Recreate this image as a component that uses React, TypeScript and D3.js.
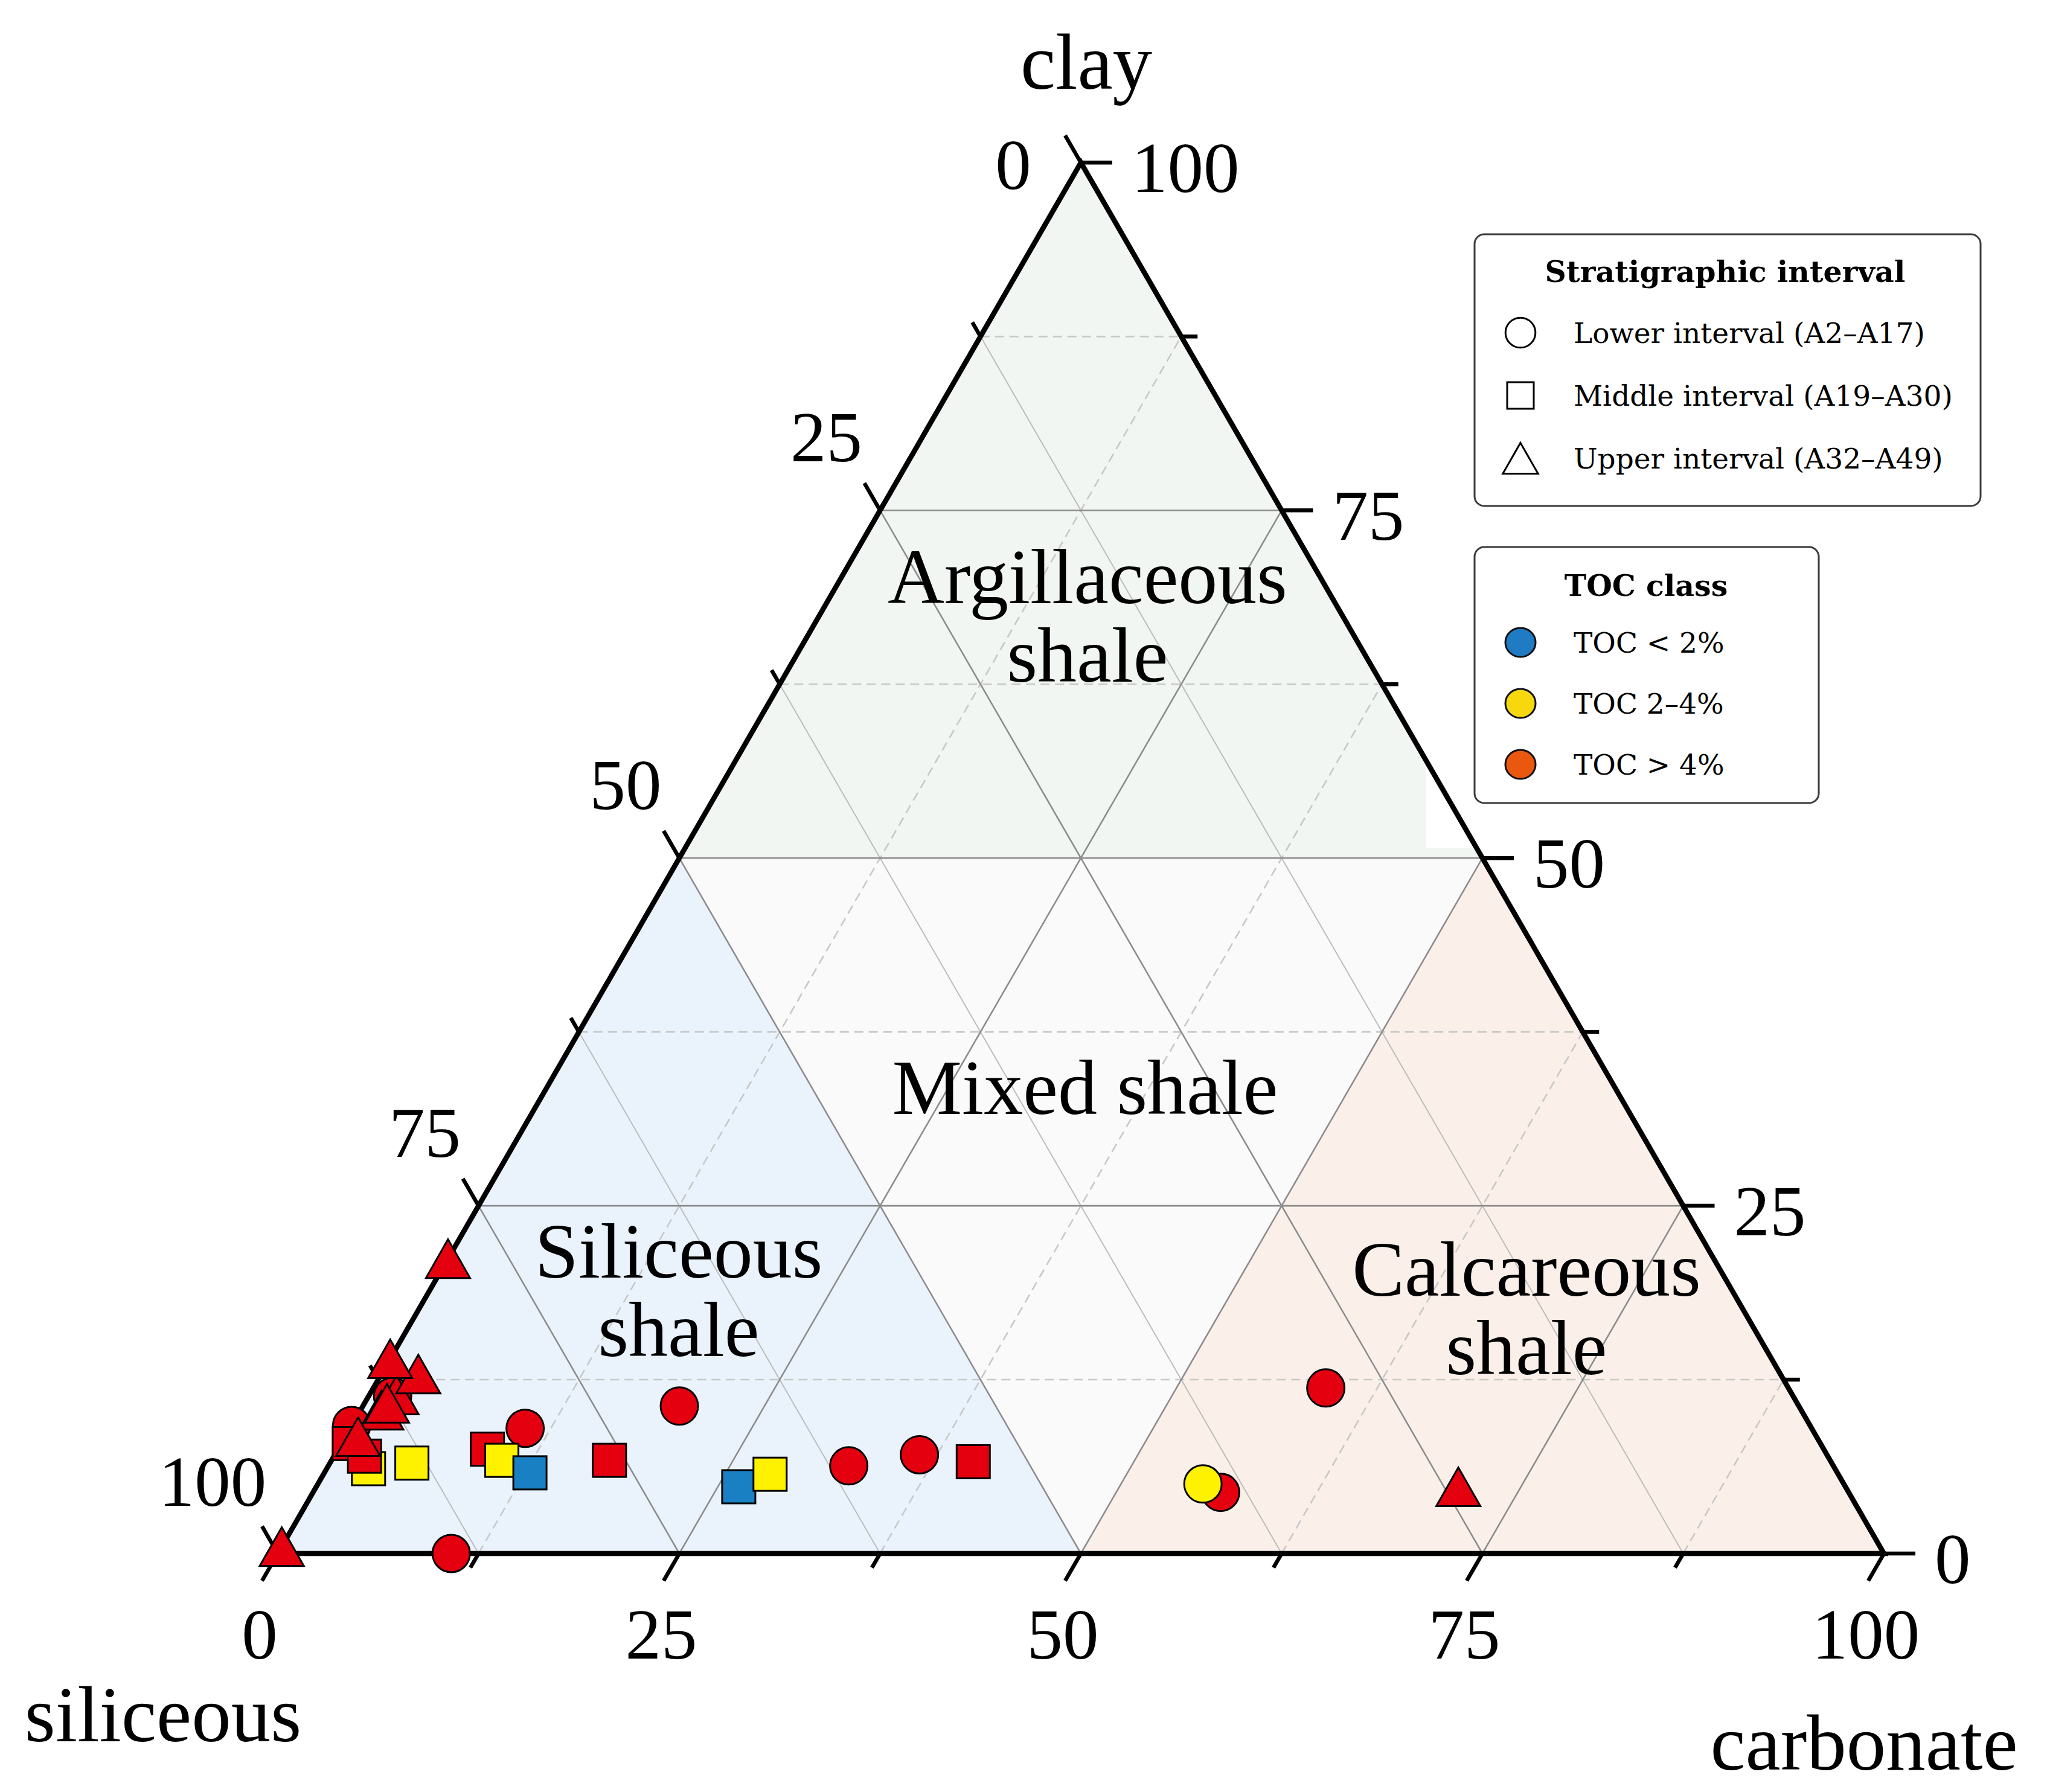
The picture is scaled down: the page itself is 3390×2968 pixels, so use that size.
import * as d3 from 'd3'

// Ternary diagram of shale lithofacies (siliceous / carbonate / clay, %)

type Toc = 'low' | 'mid' | 'high'
interface Sample {
  sil: number
  carb: number
  clay: number
  toc: Toc
}

// Lower interval (A2–A17) — circles
const lowerInterval: Sample[] = [
  { sil: 90.8, carb: 0.0, clay: 9.2, toc: 'high' },
  { sil: 87.2, carb: 1.5, clay: 11.3, toc: 'high' },
  { sil: 80.1, carb: 10.9, clay: 9.0, toc: 'high' },
  { sil: 89.2, carb: 10.8, clay: 0.0, toc: 'high' },
  { sil: 69.7, carb: 19.7, clay: 10.6, toc: 'high' },
  { sil: 61.3, carb: 32.4, clay: 6.3, toc: 'high' },
  { sil: 56.5, carb: 36.4, clay: 7.1, toc: 'high' },
  { sil: 28.8, carb: 59.3, clay: 11.9, toc: 'high' },
  { sil: 39.1, carb: 56.5, clay: 4.4, toc: 'high' },
  { sil: 39.9, carb: 55.1, clay: 5.0, toc: 'mid' },
]

// Middle interval (A19–A30) — squares
const middleInterval: Sample[] = [
  { sil: 91.3, carb: 2.6, clay: 6.1, toc: 'mid' },
  { sil: 91.6, carb: 0.5, clay: 7.9, toc: 'high' },
  { sil: 91.1, carb: 1.9, clay: 7.0, toc: 'high' },
  { sil: 88.4, carb: 5.1, clay: 6.5, toc: 'mid' },
  { sil: 83.2, carb: 9.3, clay: 7.5, toc: 'high' },
  { sil: 82.7, carb: 10.6, clay: 6.7, toc: 'mid' },
  { sil: 81.4, carb: 12.8, clay: 5.8, toc: 'low' },
  { sil: 76.0, carb: 17.3, clay: 6.7, toc: 'high' },
  { sil: 68.9, carb: 26.3, clay: 4.8, toc: 'low' },
  { sil: 66.5, carb: 27.8, clay: 5.7, toc: 'mid' },
  { sil: 53.4, carb: 40.0, clay: 6.6, toc: 'high' },
]

// Upper interval (A32–A49) — triangles
const upperInterval: Sample[] = [
  { sil: 99.5, carb: 0.0, clay: 0.5, toc: 'high' },
  { sil: 78.8, carb: 0.0, clay: 21.2, toc: 'high' },
  { sil: 88.4, carb: 1.3, clay: 10.3, toc: 'high' },
  { sil: 86.9, carb: 1.7, clay: 11.4, toc: 'high' },
  { sil: 84.8, carb: 2.3, clay: 12.9, toc: 'high' },
  { sil: 87.8, carb: 1.4, clay: 10.8, toc: 'high' },
  { sil: 86.0, carb: 0.0, clay: 14.0, toc: 'high' },
  { sil: 90.8, carb: 0.8, clay: 8.4, toc: 'high' },
  { sil: 24.1, carb: 71.1, clay: 4.8, toc: 'high' },
]

const tickValues = [0, 12.5, 25, 37.5, 50, 62.5, 75, 87.5, 100]
const labelValues = [0, 25, 50, 75, 100]
const gridValues = [12.5, 25, 37.5, 50, 62.5, 75, 87.5]

const intervalLegend = [
  { shape: 'circle', label: 'Lower interval (A2–A17)' },
  { shape: 'square', label: 'Middle interval (A19–A30)' },
  { shape: 'triangle', label: 'Upper interval (A32–A49)' },
]
const tocLegend = [
  { color: '#1f7bc3', label: 'TOC < 2%' },
  { color: '#f7d80c', label: 'TOC 2–4%' },
  { color: '#e9580e', label: 'TOC > 4%' },
]

const markerColor: Record<Toc, string> = {
  low: '#1a80c4',
  mid: '#fff200',
  high: '#e4000f',
}

const WIDTH = 3390
const HEIGHT = 2968
const SERIF = '"Liberation Serif", "Times New Roman", serif'
const LEGEND_FONT = '"DejaVu Serif", serif'

export default function App() {
  const x0 = 460
  const side = 2660
  const yBase = 2573
  const triH = side * Math.sqrt(3) / 2

  // carb + clay/2 -> horizontal, clay -> vertical
  const sx = d3.scaleLinear().domain([0, 100]).range([x0, x0 + side])
  const sy = d3.scaleLinear().domain([0, 100]).range([yBase, yBase - triH])
  const px = (carb: number, clay: number): [number, number] => [sx(carb + clay / 2), sy(clay)]

  const line = d3.line<[number, number]>()
  const poly = (pts: Array<[number, number]>) => line(pts) + 'Z'

  const top = px(0, 100)
  const bl = px(0, 0)
  const br = px(100, 0)
  const leftMid = px(0, 50)
  const botMid = px(50, 0)
  const rightMid = px(50, 50)

  // grid lines
  const grid: Array<{ d: string; kind: 'major' | 'dash' | 'light' }> = []
  gridValues.forEach((v) => {
    const major = v % 25 === 0
    grid.push({ d: line([px(0, v), px(100 - v, v)])!, kind: major ? 'major' : 'dash' })
    grid.push({ d: line([px(v, 0), px(v, 100 - v)])!, kind: major ? 'major' : 'dash' })
    grid.push({ d: line([px(100 - v, 0), px(0, 100 - v)])!, kind: major ? 'major' : 'light' })
  })
  const gridStyle = {
    major: { stroke: '#8c8c8c', strokeWidth: 2.6, dash: undefined },
    dash: { stroke: '#c8c8c8', strokeWidth: 2.6, dash: '15 9' },
    light: { stroke: '#bdbdbd', strokeWidth: 2, dash: undefined },
  }

  const majorLen = 52
  const minorLen = 27
  const c60 = 0.5
  const s60 = Math.sqrt(3) / 2

  const tickEls: JSX.Element[] = []
  tickValues.forEach((v, i) => {
    const len = v % 25 === 0 ? majorLen : minorLen
    // bottom: carbonate
    const [bx, by] = px(v, 0)
    tickEls.push(<line key={'b' + i} x1={bx} y1={by} x2={bx - c60 * len} y2={by + s60 * len} />)
    // left: siliceous (v = siliceous)
    const [lx, ly] = px(0, 100 - v)
    tickEls.push(<line key={'l' + i} x1={lx} y1={ly} x2={lx - c60 * len} y2={ly - s60 * len} />)
    // right: clay
    const [rx, ry] = px(100 - v, v)
    tickEls.push(<line key={'r' + i} x1={rx} y1={ry} x2={rx + len} y2={ry} />)
  })

  const leftOffset = (v: number): [number, number] => {
    if (v === 0) return [-112, 4]
    if (v === 100) return [-108, -119]
    return [-89, -121]
  }

  const marker = (shape: string, cx: number, cy: number, fill: string, k: string, scale = 1) => {
    if (shape === 'circle') {
      return <circle key={k} cx={cx} cy={cy} r={31 * scale} fill={fill} stroke="#000" strokeWidth={3} />
    }
    if (shape === 'square') {
      const s = 55 * scale
      return <rect key={k} x={cx - s / 2} y={cy - s / 2} width={s} height={s} fill={fill} stroke="#000" strokeWidth={3} />
    }
    const w = 73 * scale
    const h = 64 * scale
    return (
      <path
        key={k}
        d={poly([
          [cx, cy - h / 2],
          [cx + w / 2, cy + h / 2],
          [cx - w / 2, cy + h / 2],
        ])}
        fill={fill}
        stroke="#000"
        strokeWidth={3}
        strokeLinejoin="miter"
      />
    )
  }

  const groups: Array<{ shape: string; data: Sample[] }> = [
    { shape: 'circle', data: lowerInterval },
    { shape: 'square', data: middleInterval },
    { shape: 'triangle', data: upperInterval },
  ]

  const regionLabel = (lines: string[], cx: number, baseline: number, gap = 130) =>
    lines.map((t, i) => (
      <text key={t + i} x={cx} y={baseline + i * gap} textAnchor="middle" fontSize={130}>
        {t}
      </text>
    ))

  const legendX = 2518
  const legendTextX = 2606

  return (
    <svg
      width={WIDTH}
      height={HEIGHT}
      viewBox={`0 0 ${WIDTH} ${HEIGHT}`}
      style={{ position: 'absolute', left: 0, top: 0, background: '#fff' }}
      fontFamily={SERIF}
    >
      <rect width={WIDTH} height={HEIGHT} fill="#fff" />

      {/* region fills */}
      <path d={poly([leftMid, botMid, rightMid])} fill="#fafafa" />
      <path d={poly([top, leftMid, rightMid])} fill="#f1f6f2" />
      <path d={poly([bl, botMid, leftMid])} fill="#eaf3fc" />
      <path d={poly([br, rightMid, botMid])} fill="#faf0e9" />

      {/* grid */}
      <g fill="none">
        {grid
          .filter((g) => g.kind !== 'major')
          .map((g, i) => (
            <path
              key={'g' + i}
              d={g.d}
              stroke={gridStyle[g.kind].stroke}
              strokeWidth={gridStyle[g.kind].strokeWidth}
              strokeDasharray={gridStyle[g.kind].dash}
            />
          ))}
        {grid
          .filter((g) => g.kind === 'major')
          .map((g, i) => (
            <path key={'m' + i} d={g.d} stroke={gridStyle.major.stroke} strokeWidth={gridStyle.major.strokeWidth} />
          ))}
      </g>

      {/* white patch left behind by the legend frame */}
      <rect x={2362} y={1200} width={140} height={205} fill="#fff" />

      {/* triangle outline */}
      <path d={poly([bl, br, top])} fill="none" stroke="#000" strokeWidth={8.5} strokeLinejoin="miter" />

      {/* ticks */}
      <g stroke="#000" strokeWidth={6.5}>{tickEls}</g>

      {/* tick labels */}
      <g fontSize={119} fill="#000">
        {labelValues.map((v) => {
          const [bx, by] = px(v, 0)
          return (
            <text key={'bl' + v} x={bx - 30} y={by + 134} textAnchor="middle" dominantBaseline="central">
              {v}
            </text>
          )
        })}
        {labelValues.map((v) => {
          const [lx, ly] = px(0, 100 - v)
          const [dx, dy] = leftOffset(v)
          return (
            <text key={'ll' + v} x={lx + dx} y={ly + dy} textAnchor="middle" dominantBaseline="central">
              {v}
            </text>
          )
        })}
        {labelValues.map((v) => {
          const [rx, ry] = px(100 - v, v)
          return (
            <text key={'rl' + v} x={rx + 84} y={ry + 9} textAnchor="start" dominantBaseline="central">
              {v}
            </text>
          )
        })}
      </g>

      {/* axis titles */}
      <g fontSize={131} fill="#000" textAnchor="middle" dominantBaseline="central">
        <text x={top[0] + 9} y={102}>clay</text>
        <text x={bl[0] - 190} y={2839}>siliceous</text>
        <text x={br[0] - 33} y={2886}>carbonate</text>
      </g>

      {/* region labels */}
      <g fill="#000">
        {regionLabel(['Argillaceous', 'shale'], 1801, 999)}
        {regionLabel(['Mixed shale'], 1797, 1845)}
        {regionLabel(['Siliceous', 'shale'], 1124, 2116)}
        {regionLabel(['Calcareous', 'shale'], 2528, 2146)}
      </g>

      {/* samples */}
      <g>
        {groups.map((g) =>
          g.data.map((s, i) => {
            const [cx, cy] = px(s.carb, s.clay)
            return marker(g.shape, cx, cy, markerColor[s.toc], g.shape + i)
          }),
        )}
      </g>

      {/* legend: stratigraphic interval */}
      <g fontFamily={LEGEND_FONT}>
        <rect x={2442} y={388} width={838} height={450} rx={16} fill="#fff" stroke="#3a3a3a" strokeWidth={3} />
        <text x={2857} y={450} textAnchor="middle" dominantBaseline="central" fontSize={49} fontWeight="bold">
          Stratigraphic interval
        </text>
        {intervalLegend.map((e, i) => {
          const cy = 551 + i * 104
          return (
            <g key={e.label}>
              {marker(e.shape, legendX, cy, '#fff', 'li' + i, 0.8)}
              <text x={legendTextX} y={cy} dominantBaseline="central" fontSize={47}>
                {e.label}
              </text>
            </g>
          )
        })}

        {/* legend: TOC class */}
        <rect x={2442} y={906} width={570} height={424} rx={16} fill="#fff" stroke="#3a3a3a" strokeWidth={3} />
        <text x={2726} y={970} textAnchor="middle" dominantBaseline="central" fontSize={49} fontWeight="bold">
          TOC class
        </text>
        {tocLegend.map((e, i) => {
          const cy = 1064 + i * 101
          return (
            <g key={e.label}>
              <ellipse cx={legendX} cy={cy} rx={25} ry={24} fill={e.color} stroke="#111" strokeWidth={3} />
              <text x={legendTextX} y={cy} dominantBaseline="central" fontSize={47}>
                {e.label}
              </text>
            </g>
          )
        })}
      </g>
    </svg>
  )
}
